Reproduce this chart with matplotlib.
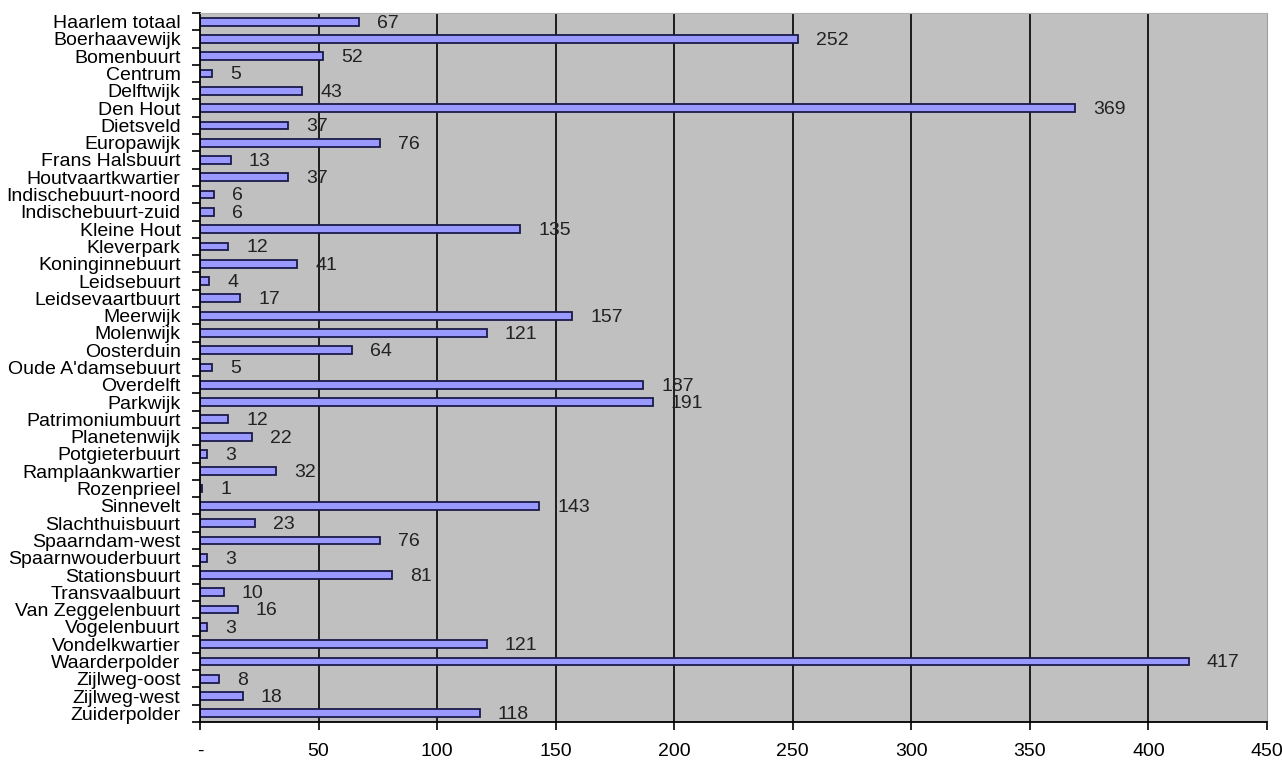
import matplotlib.pyplot as plt
import numpy as np

plt.rcParams["font.family"] = ["Liberation Sans", "DejaVu Sans"]

buurten = [
    "Haarlem totaal", "Boerhaavewijk", "Bomenbuurt", "Centrum", "Delftwijk",
    "Den Hout", "Dietsveld", "Europawijk", "Frans Halsbuurt", "Houtvaartkwartier",
    "Indischebuurt-noord", "Indischebuurt-zuid", "Kleine Hout", "Kleverpark",
    "Koninginnebuurt", "Leidsebuurt", "Leidsevaartbuurt", "Meerwijk", "Molenwijk",
    "Oosterduin", "Oude A'damsebuurt", "Overdelft", "Parkwijk", "Patrimoniumbuurt",
    "Planetenwijk", "Potgieterbuurt", "Ramplaankwartier", "Rozenprieel", "Sinnevelt",
    "Slachthuisbuurt", "Spaarndam-west", "Spaarnwouderbuurt", "Stationsbuurt",
    "Transvaalbuurt", "Van Zeggelenbuurt", "Vogelenbuurt", "Vondelkwartier",
    "Waarderpolder", "Zijlweg-oost", "Zijlweg-west", "Zuiderpolder",
]
waarden = [
    67, 252, 52, 5, 43, 369, 37, 76, 13, 37,
    6, 6, 135, 12, 41, 4, 17, 157, 121, 64,
    5, 187, 191, 12, 22, 3, 32, 1, 143, 23,
    76, 3, 81, 10, 16, 3, 121, 417, 8, 18, 118,
]
x_ticks = [0, 50, 100, 150, 200, 250, 300, 350, 400, 450]
x_tick_labels = ["-", "50", "100", "150", "200", "250", "300", "350", "400", "450"]

fig = plt.figure(figsize=(12.82, 7.6), dpi=100)
ax = fig.add_axes([200 / 1282, 1 - 722 / 760, 1067 / 1282, 709 / 760])
ax.set_facecolor("#c0c0c0")

y = np.arange(len(buurten))
ax.barh(y, waarden, height=0.45, color="#9999ff", edgecolor="#1a1a4a",
        linewidth=1.3, zorder=2)

for yi, v in zip(y, waarden):
    ax.annotate(str(v), (v, yi), xytext=(13, -1), textcoords="offset points",
                ha="left", va="center", fontsize=14, color="#222222", zorder=3)

ax.set_xlim(0, 450)
ax.set_ylim(len(buurten) - 0.5, -0.5)
ax.set_xticks(x_ticks)
ax.set_xticklabels(x_tick_labels, fontsize=14)
ax.set_yticks(y)
ax.set_yticklabels(buurten, fontsize=14)
ax.set_yticks(np.arange(len(buurten) + 1) - 0.5, minor=True)
ax.tick_params(axis="y", which="major", length=0, pad=14)
ax.tick_params(axis="y", which="minor", length=6, width=1.2, color="black")
ax.tick_params(axis="x", which="major", length=6, width=1.2, pad=9, direction="out")

for xv in x_ticks[1:-1]:
    ax.axvline(xv, color="black", linewidth=1.2, zorder=1)

ax.spines["left"].set_linewidth(1.3)
ax.spines["bottom"].set_linewidth(1.3)
ax.spines["top"].set_color("#b0b0b0")
ax.spines["right"].set_color("#a0a0a0")

fig.savefig("out.png", dpi=100)
